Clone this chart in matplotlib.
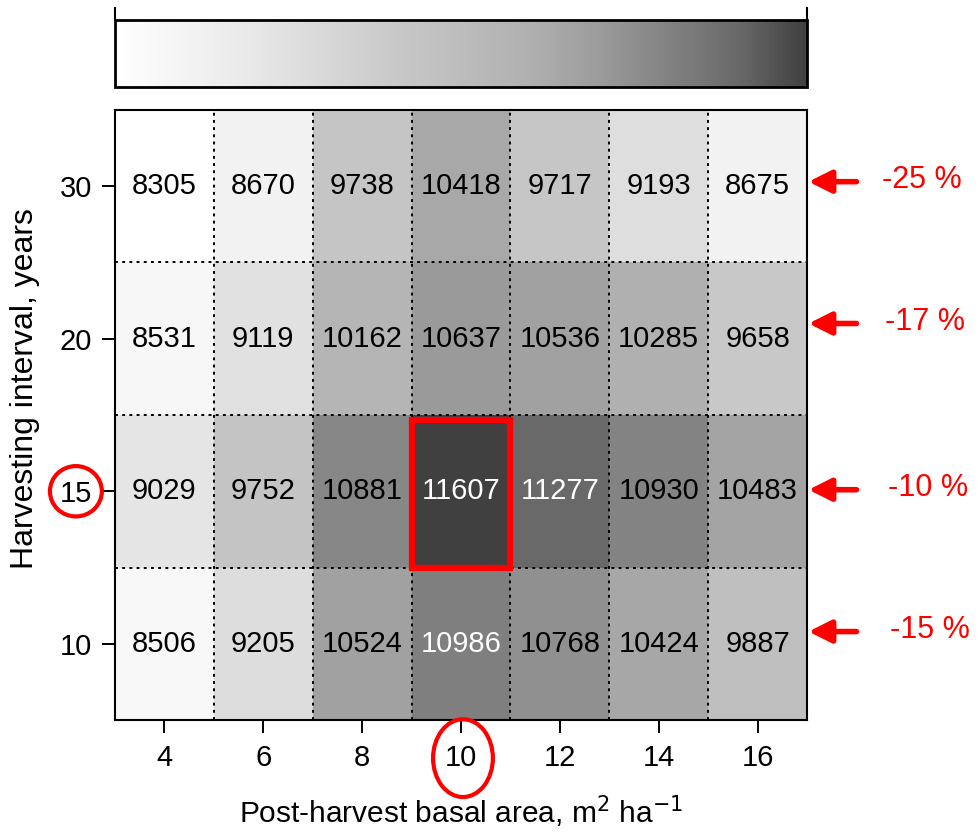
import numpy as np
import matplotlib
matplotlib.use("Agg")
import matplotlib.pyplot as plt
from matplotlib.colors import LinearSegmentedColormap
from matplotlib.patches import Rectangle, Ellipse

plt.rcParams['font.family'] = ['Liberation Sans', 'DejaVu Sans']

# Post-harvest basal area (x) and harvesting interval (y)
basal_area = [4, 6, 8, 10, 12, 14, 16]
interval_labels = ['10', '15', '20', '30']

# Cell values, rows from bottom (10 yr) to top (30 yr)
yield_10 = [8506, 9205, 10524, 10986, 10768, 10424, 9887]
yield_15 = [9029, 9752, 10881, 11607, 11277, 10930, 10483]
yield_20 = [8531, 9119, 10162, 10637, 10536, 10285, 9658]
yield_30 = [8305, 8670, 9738, 10418, 9717, 9193, 8675]

# Relative change per harvesting interval
pct_labels = ['-15 %', '-10 %', '-17 %', '-25 %']

values = np.array([yield_10, yield_15, yield_20, yield_30])

# grey ramp, white -> dark grey
cmap = LinearSegmentedColormap.from_list('greys', [
    (0.0, (1.0, 1.0, 1.0)), (0.2, (0.91, 0.91, 0.91)), (0.4, (0.79, 0.79, 0.79)),
    (0.6, (0.69, 0.69, 0.69)), (0.7, (0.61, 0.61, 0.61)), (0.8, (0.51, 0.51, 0.51)),
    (0.9, (0.415, 0.415, 0.415)), (1.0, (0.25, 0.25, 0.25))])
vmin, vmax = values.min(), values.max()

fig = plt.figure(figsize=(9.8, 8.32), dpi=100)
ax = fig.add_axes([0.1173, 0.1346, 0.7062, 0.7332])
cax = fig.add_axes([0.1173, 0.8954, 0.7062, 0.0806])

x = np.array(basal_area)
xedges = np.append(x - 1, x[-1] + 1)
yedges = np.arange(len(interval_labels) + 1) - 0.5
mesh = ax.pcolormesh(xedges, yedges, values, cmap=cmap, vmin=vmin, vmax=vmax)

# dotted cell borders
for xe in xedges[1:-1]:
    ax.axvline(xe, color='black', linestyle=(0, (1.5, 2.2)), linewidth=1.4)
for ye in yedges[1:-1]:
    ax.axhline(ye, color='black', linestyle=(0, (1.5, 2.2)), linewidth=1.4)

# cell labels
for i in range(values.shape[0]):
    for j in range(values.shape[1]):
        v = values[i, j]
        ax.text(x[j], i, str(v), ha='center', va='center', fontsize=21,
                color='white' if v > 10950 else 'black')

ax.set_xlim(xedges[0], xedges[-1])
ax.set_ylim(yedges[0], yedges[-1])
ax.set_xticks(x)
ax.set_yticks(range(len(interval_labels)))
ax.set_yticklabels(interval_labels)
ax.tick_params(axis='both', labelsize=21, length=9.4, width=1.4)
ax.tick_params(axis='x', pad=8)
ax.tick_params(axis='y', pad=7)
ax.set_xlabel('Post-harvest basal area, m$^2$ ha$^{-1}$', fontsize=21.5)
ax.set_ylabel('Harvesting interval, years', fontsize=23)
ax.xaxis.set_label_coords(0.5, -0.12)
ax.yaxis.set_label_coords(-0.108, 0.543)
for s in ax.spines.values():
    s.set_linewidth(1.5)

# highlight best cell
ax.add_patch(Rectangle((9.0, 0.5), 2.0, 0.97, fill=False, edgecolor='red',
                       linewidth=4.5, zorder=5))

# circles round the optimal tick labels
ax.add_patch(Ellipse((2.21, 1.0), 1.05, 0.33, fill=False, edgecolor='red',
                     linewidth=3, clip_on=False, zorder=6))
ax.add_patch(Ellipse((10.04, -0.75), 1.21, 0.51, fill=False, edgecolor='red',
                     linewidth=3, clip_on=False, zorder=6))

# arrows and percentages on the right
arrow_y = [0.08, 1.01, 2.10, 3.03]
text_x = [19.49, 19.45, 19.39, 19.33]
for yy, tx, lab in zip(arrow_y, text_x, pct_labels):
    ax.annotate('', xy=(17.03, yy), xytext=(18.0, yy), annotation_clip=False,
                arrowprops=dict(arrowstyle='-|>', color='red', lw=4,
                                mutation_scale=34, shrinkA=0, shrinkB=0))
    ax.text(tx, yy + 0.01, lab, color='red', fontsize=22, ha='center',
            va='center', clip_on=False)

# colour bar on top, no labels
cb = fig.colorbar(mesh, cax=cax, orientation='horizontal', ticklocation='top')
cb.set_ticks([vmin, vmax])
cb.set_ticklabels(['', ''])
cax.tick_params(length=9.5, width=1.5, direction='out')
cb.outline.set_linewidth(2)

fig.savefig('out.png', dpi=100)
